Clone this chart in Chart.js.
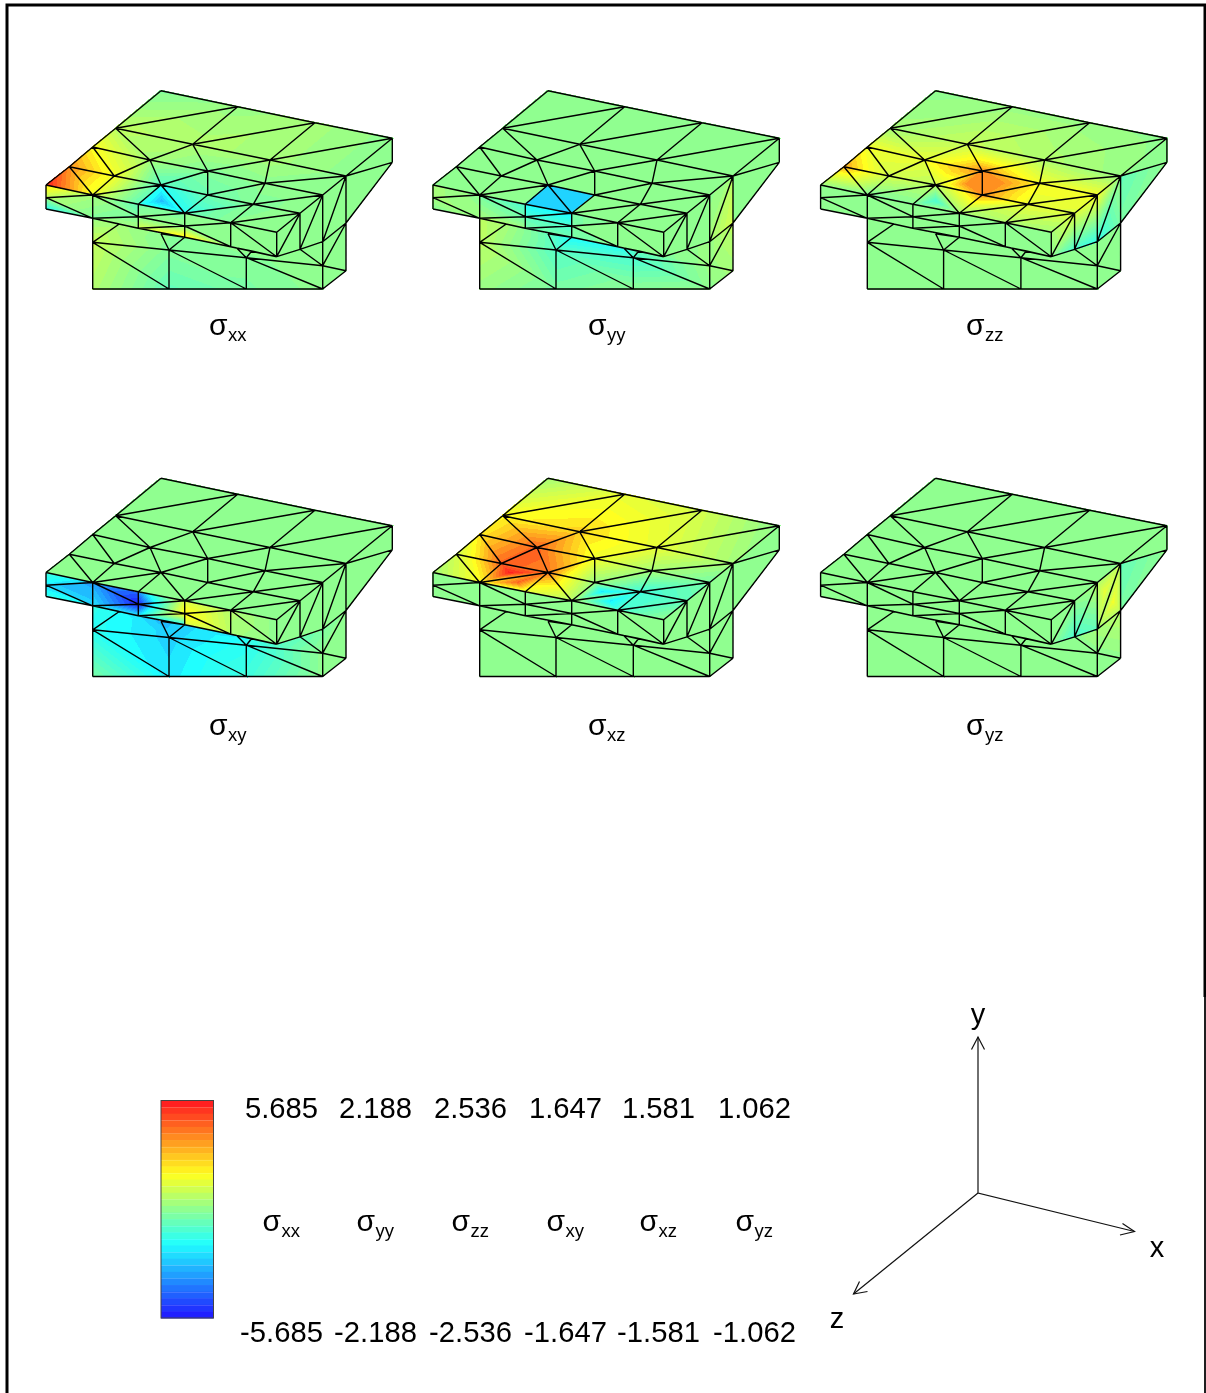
<!DOCTYPE html>
<html lang="en">
<head>
<meta charset="UTF-8">
<title>Stress components on the mesh</title>
<style>
    html, body { margin: 0; padding: 0; background: #fff; }
    canvas { display: block; }
</style>
<script src="https://cdn.jsdelivr.net/npm/chart.js"></script>
</head>
<body>
<canvas id="meshChart" width="1206" height="1393"></canvas>
<script>
// component names and the range printed under the colour bar
const components = ['xx', 'yy', 'zz', 'xy', 'xz', 'yz'];
const maxLabels = ['5.685', '2.188', '2.536', '1.647', '1.581', '1.062'];
const minLabels = ['-5.685', '-2.188', '-2.536', '-1.647', '-1.581', '-1.062'];

// where each copy of the mesh sits
const panelDX = [0, 387, 774.6, 0, 387, 774.6];
const panelDY = [0, 0, 0, 387.5, 387.5, 387.5];
const captionX = [209, 588, 966, 209, 588, 966];
const captionY = [335, 335, 335, 735, 735, 735];

// mesh nodes
const nodeNames = ['A0','A1','A2','A3','B0','B1','B2','B3','C0','C1','C2','C3','C4',
    'D0','D1','D2','D3','D4','D5','E0','E1','E2','E3','E4','E5',
    'G0','H0','H1','G2','H2','G3','H3','H4','H5','V1','V2','V3','W',
    'L0','L1','L2','L3','L4','M0','M1','M2','M3','Q1','Q2','Q3','Q4'];
const nodeX = [161,237.7,315,392.3,115.7,192.7,270,346,92.7,150,207.7,265,322.7,
    69.3,114.3,161,207.7,253.3,300,46,92.7,138.3,184.7,230.7,276.7,
    46,46,92.7,138.3,138.3,184.7,184.7,230.7,276.7,300,322.7,346,392.3,
    92.7,169,246.3,322.7,346,92.7,169,246.3,322.7,119.3,161,236.7,251.7];
const nodeY = [90.7,106.7,122.7,138.3,128.3,144.3,160,176,147,160,171,183.3,195,
    166.7,176,185,195,204.3,213.3,185,195,204.3,213.3,222.7,232.3,
    197.7,209,218.3,216.7,228.3,226,237.3,246.7,256.7,249.3,241.7,223,162.3,
    289,289,289,289,270.7,242.3,250,257.7,265.7,224,233.7,248,251];

const blockTriangles = ['M0 L0 L1','M0 L1 M1','M1 L1 L2','M1 L2 M2','M2 L2 L3','M2 L3 M3','M3 L3 L4',
    'H1 M0 Q1','M0 M1 Q1','Q1 M1 Q2','Q1 Q2 H2','Q2 M1 H3','M1 M2 H3','H3 M2 H4','H4 M2 Q3',
    'Q3 M2 Q4','Q4 M2 M3','Q4 M3 H5','H5 M3 V1','V1 M3 V2','V2 M3 V3','V3 M3 L4'];
const frontTriangles = ['E0 G0 E1','G0 H1 E1','G0 H0 H1','E1 H1 G2','E1 G2 E2','H1 H2 G2','E2 G2 E3',
    'G2 G3 E3','G2 H2 G3','H2 H3 G3','E3 G3 E4','G3 H3 H4','G3 H4 E4','E4 H4 H5','E4 H5 E5'];
const sideTriangles = ['E5 H5 D5','H5 V1 D5','D5 V1 C4','V1 V2 C4','C4 V2 B3','V2 V3 B3','B3 V3 W','B3 W A3'];
const topTriangles = ['A0 B0 A1','B0 B1 A1','A1 B1 A2','B1 B2 A2','A2 B2 A3','B2 B3 A3',
    'B0 C0 C1','B0 C1 B1','B1 C1 C2','B1 C2 B2','B2 C2 C3','B2 C3 B3','B3 C3 C4',
    'C0 D0 D1','C0 D1 C1','C1 D1 D2','C1 D2 C2','C2 D2 D3','C2 D3 C3','C3 D3 D4','C3 D4 C4','C4 D4 D5',
    'D0 E0 E1','D0 E1 D1','D1 E1 D2','D2 E1 E2','D2 E2 E3','D2 E3 D3','D3 E3 D4','D4 E3 E4','D4 E4 D5','D5 E4 E5'];
// triangle sides that are not lines in the picture
const hiddenEdges = ['Q1 M1','Q1 Q2','Q2 H2','Q1 H2','M2 H3','H4 M2','Q4 M3','M3 H5'];

// node order of the stress arrays: top surface, then the lower block
const valueNodes = ['A0','A1','A2','A3','B0','B1','B2','B3','C0','C1','C2','C3','C4',
    'D0','D1','D2','D3','D4','D5','E0','E1','E2','E3','E4','E5',
    'H1','H3','H4','H5','V1','V2','V3','L0','L1','L2','L3','L4','M0','M1','M2','M3','Q1','Q2','Q3','Q4'];

const sigmaXX = [-0.28,0.28,0.57,0, 1.14,0.85,0.57,0, 2.84,0.57,-0.28,0,0,
    4.26,2.56,-1.42,-0.85,-0.28,0, 5.69,2.56,-2.27,-2.56,-0.11,0,
    0.28,-0.28,0,0,0,0,0, 0.85,-1.1,-0.5,0,0, 1.42,-0.28,-0.28,0.17, 0.57,0,0,0];
const sigmaYY = [0,0,0,0, 0,0,0,0, 0,0,0,0,0,
    0,0,0,0,0,0, 0,0,0,0,0,0,
    0.44,-1.09,-0.98,-0.11,0,0.11,0.44, 0.11,-0.22,-0.04,0,0.22, 0.44,-0.55,-0.66,0.11, 0.22,-0.44,-0.87,-0.4];
const sigmaZZ = [0,0.13,0.13,0, 0.25,0.63,0.38,0.13, 1.14,1.01,1.9,1.14,1.14,
    1.78,0.76,0.51,1.9,1.01,0.89, 0.13,-0.13,-0.1,0.25,0.38,0.25,
    0,0,0,0,0,0,0, 0,0,0,0,0, 0,0,0,0, 0,0,0,0];
const sigmaXY = [0,0,0,0, 0,0,0,0, 0,0,0,0,0,
    0,0,0,0,0,0, 0,0,0,0,0,0,
    -0.66,-0.99,-0.91,-0.41,-0.33,-0.16,0, -0.16,-0.91,-0.58,0,0, -0.74,-0.99,-0.74,0, -0.82,-1.07,-0.82,-0.66];
const sigmaXZ = [0.16,0.63,0.47,0, 0.79,0.95,0.63,0.16, 0.87,1.34,0.71,0.16,-0.16,
    0.47,1.34,1.26,0.08,-0.55,-0.32, 0.16,0.79,0.63,0.24,-0.47,0,
    0,0,0,0,0,0,0, 0,0,0,0,0, 0,0,0,0, 0,0,0,0];
const sigmaYZ = [0,0,0,0, 0,0,0,0, 0,0,0,0,0,
    0,0,0,0,0,0, 0,0,0,0,0,0,
    0,0,0,0,0,0.11,0.21, 0,0,0,0,0, 0,0,0,0, 0,0,0,0];

// elements whose values differ from the shared node values: [triangle, value] is flat,
// [triangle, a, b, c] sets its corners, a fifth number sets its middle
const patchesXX = [['D2 E2 E3',-2.56,-2.27,-2.56,-3.7],['D2 E3 D3',-2.56,-2.56,-0.85],
    ['D2 E1 E2',-1.14,2,-1.14],['D3 E3 D4',-0.85,-2.27,-0.28],['D4 E3 E4',-0.28,-1.14,-0.11],
    ['E0 G0 E1',3.41,1.14,0.85],['G0 H1 E1',0.85,-0.28,0.57],['G0 H0 H1',0.28,-2.56,-0.57],
    ['E1 H1 G2',0.57,-0.28,-0.57],['E1 G2 E2',0.57,-0.57,-1.14],['H1 H2 G2',0.28,0.57,-0.28],
    ['E2 G2 E3',-0.57,0,-0.28],['G2 G3 E3',0,0,-0.28],['G2 H2 G3',0,1.71,0],
    ['H2 H3 G3',1.71,3.41,0],['G3 H3 H4',0,3.41,0.28]];
const patchesYY = [['D2 E2 E3',-1.36],['D2 E3 D3',-1.36],
    ['E0 G0 E1',0.22,0.22,0],['G0 H1 E1',0.22,0.11,0],['G0 H0 H1',0.11,0,0.11],
    ['E1 H1 G2',-0.22,0.22,-0.33],['E1 G2 E2',-0.22,-0.33,-0.66],['H1 H2 G2',0.44,0.11,-0.33],
    ['E2 G2 E3',-1.09,-0.66,-1.2],['G2 G3 E3',-0.66,-0.66,-1.2],['G2 H2 G3',-0.44,-0.22,-0.66],
    ['H2 H3 G3',-0.22,-0.33,-0.66],['E3 G3 E4',-0.22,-0.22,0],['G3 H3 H4',-0.22,-0.22,-0.11],
    ['C4 V2 B3',0,0.22,0.22],['V2 V3 B3',0.22,0.66,0.44]];
const patchesZZ = [['D2 E2 E3',0.51,-0.1,0.25,-0.76],
    ['C2 D2 D3',1.9,0.76,1.9,1.9],['C2 D3 C3',1.9,1.9,1.3,1.9],['C1 D2 C2',1.2,0.8,1.9,1.4],
    ['C3 D3 D4',1.3,1.9,1.1,1.4],
    ['E5 H5 D5',0.25,0,0.89],['H5 V1 D5',0,-0.76,0.89],['D5 V1 C4',0.89,-0.76,1.14],
    ['V1 V2 C4',-0.76,-1.01,1.14],['C4 V2 B3',1.14,-1.01,0.13],['V2 V3 B3',-1.01,-0.25,0.13],
    ['B3 V3 W',-0.51,-0.25,0]];
const patchesXY = [['E0 G0 E1',-0.58,-0.91,-0.99],['G0 H1 E1',-0.99,-0.99,-1.15],['G0 H0 H1',-0.99,-0.66,-0.82],
    ['E1 H1 G2',-1.15,-0.91,-1.647],['E1 G2 E2',-1.15,-1.647,-1.4],['H1 H2 G2',-0.82,-0.91,-1.647],
    ['E2 G2 E3',-1.24,-1.647,0.58],['G2 G3 E3',-1.647,0.91,0.58],['G2 H2 G3',-1.647,-0.91,0.91],
    ['H2 H3 G3',-0.91,-0.66,0.91],['E3 G3 E4',0.58,0.91,0.25],['G3 H3 H4',0.91,0.58,0.33],
    ['G3 H4 E4',0.91,0.33,0.25],['E4 H4 H5',0.25,0.16,0],['E4 H5 E5',0.25,0,0]];
const patchesXZ = [['D1 E1 D2',1.34,0.79,1.26,1.581],['D2 E1 E2',1.26,0.79,0.63,1.34],
    ['D3 E3 D4',0.08,0.24,-0.55,-0.87],['D4 E3 E4',-0.55,0.24,-0.47,-0.87]];
const patchesYZ = [['H5 V1 D5',0,-0.32,0],['D5 V1 C4',0,-0.32,0.11],['V1 V2 C4',-0.32,-0.21,0.21],
    ['C4 V2 B3',0.16,0.11,0.21,0.42],['V2 V3 B3',0.11,0.21,0.21,0.48],['B3 V3 W',-0.21,-0.11,0]];

const panelValues = [sigmaXX, sigmaYY, sigmaZZ, sigmaXY, sigmaXZ, sigmaYZ];
const panelPatches = [patchesXX, patchesYY, patchesZZ, patchesXY, patchesXZ, patchesYZ];

// colour table; the bar spaces the same colours evenly
const stopColors = [[32,32,255],[32,144,255],[32,255,255],[144,255,144],[255,255,32],[255,144,32],[255,32,32]];
const meshStops = [-1,-0.75,-0.5,0,0.5,0.75,1];
const barStops = [-1,-0.67,-0.33,0,0.33,0.67,1];
const meshLevels = 40;
const barBands = 33;
const barLeft = 161, barRight = 213.5, barTop = 1100.5, barBottom = 1318;

// frame and xyz triad
const frameLeft = [[7,1393],[7,5],[1205,5],[1205,997]];
const frameRight = [[1205,997],[1205,1393]];
const triadLines = [[[978,1037],[978,1193],[1134.5,1231.5]],[[978,1193],[853.5,1294]]];
const triadHeads = [[[971.5,1049.5],[978,1037],[984.5,1049.5]],
    [[1122.5,1223.5],[1134.5,1231.5],[1120,1235]],
    [[859.5,1281.5],[853.5,1294],[867.5,1291.5]]];
const triadNames = ['y', 'x', 'z'];
const triadNameX = [978, 1157, 837];
const triadNameY = [1024, 1257, 1328];

const barCenters = [281.5, 375.5, 470.5, 565.5, 658.5, 754.5];
const maxRowY = 1118, nameRowY = 1231, minRowY = 1342;

function lookupColor(t, stops) {
    if (t <= stops[0]) return stopColors[0];
    for (let i = 1; i < stops.length; i++) {
        if (t <= stops[i]) {
            const f = (t - stops[i - 1]) / (stops[i] - stops[i - 1]);
            const a = stopColors[i - 1], b = stopColors[i];
            return [a[0] + (b[0] - a[0]) * f, a[1] + (b[1] - a[1]) * f, a[2] + (b[2] - a[2]) * f];
        }
    }
    return stopColors[stopColors.length - 1];
}

// fills one triangle pixel by pixel with stepped colours
function rasterTriangle(img, w, h, p, v, limit) {
    const x0 = Math.max(0, Math.floor(Math.min(p[0][0], p[1][0], p[2][0])));
    const x1 = Math.min(w - 1, Math.ceil(Math.max(p[0][0], p[1][0], p[2][0])));
    const y0 = Math.max(0, Math.floor(Math.min(p[0][1], p[1][1], p[2][1])));
    const y1 = Math.min(h - 1, Math.ceil(Math.max(p[0][1], p[1][1], p[2][1])));
    const d = (p[1][1] - p[2][1]) * (p[0][0] - p[2][0]) + (p[2][0] - p[1][0]) * (p[0][1] - p[2][1]);
    if (Math.abs(d) < 1e-6) return;
    for (let y = y0; y <= y1; y++) {
        for (let x = x0; x <= x1; x++) {
            const px = x + 0.5, py = y + 0.5;
            const a = ((p[1][1] - p[2][1]) * (px - p[2][0]) + (p[2][0] - p[1][0]) * (py - p[2][1])) / d;
            const b = ((p[2][1] - p[0][1]) * (px - p[2][0]) + (p[0][0] - p[2][0]) * (py - p[2][1])) / d;
            const c = 1 - a - b;
            if (a < -0.02 || b < -0.02 || c < -0.02) continue;
            const val = (a * v[0] + b * v[1] + c * v[2]) / limit;
            const t = Math.round((val + 1) / 2 * meshLevels) / meshLevels * 2 - 1;
            const col = lookupColor(t, meshStops);
            const k = (y * w + x) * 4;
            img.data[k] = col[0];
            img.data[k + 1] = col[1];
            img.data[k + 2] = col[2];
            img.data[k + 3] = 255;
        }
    }
}

const meshFill = {
    id: 'meshFill',
    beforeDatasetsDraw(chart) {
        const sx = chart.scales.x, sy = chart.scales.y;
        const w = chart.width, h = chart.height;
        const layer = document.createElement('canvas');
        layer.width = w;
        layer.height = h;
        const lctx = layer.getContext('2d');
        const img = lctx.createImageData(w, h);
        const limits = maxLabels.map(Number);

        panelValues.forEach((values, pi) => {
            const byNode = {};
            valueNodes.forEach((n, i) => { byNode[n] = values[i]; });
            const patchByTri = {};
            panelPatches[pi].forEach(p => { patchByTri[p[0]] = p; });
            const pos = {};
            nodeNames.forEach((n, i) => {
                pos[n] = [sx.getPixelForValue(nodeX[i] + panelDX[pi]), sy.getPixelForValue(nodeY[i] + panelDY[pi])];
            });
            const paint = (list, flatByDefault) => {
                list.forEach(tri => {
                    const names = tri.split(' ');
                    const pts = names.map(n => pos[n]);
                    const patch = patchByTri[tri];
                    let vals = names.map(n => flatByDefault ? 0 : (byNode[n] ?? 0));
                    if (patch && patch.length === 2) vals = [patch[1], patch[1], patch[1]];
                    if (patch && patch.length >= 4) vals = patch.slice(1, 4);
                    if (patch && patch.length === 5) {
                        const mid = [(pts[0][0] + pts[1][0] + pts[2][0]) / 3, (pts[0][1] + pts[1][1] + pts[2][1]) / 3];
                        for (let i = 0; i < 3; i++) {
                            const j = (i + 1) % 3;
                            rasterTriangle(img, w, h, [pts[i], pts[j], mid], [vals[i], vals[j], patch[4]], limits[pi]);
                        }
                    } else {
                        rasterTriangle(img, w, h, pts, vals, limits[pi]);
                    }
                });
            };
            paint(blockTriangles, false);
            paint(frontTriangles, true);
            paint(sideTriangles, true);
            paint(topTriangles, false);
        });
        lctx.putImageData(img, 0, 0);
        chart.ctx.drawImage(layer, 0, 0);

        // colour bar
        const ctx = chart.ctx;
        const left = sx.getPixelForValue(barLeft), right = sx.getPixelForValue(barRight);
        const top = sy.getPixelForValue(barTop), bottom = sy.getPixelForValue(barBottom);
        const bandH = (bottom - top) / barBands;
        for (let i = 0; i < barBands; i++) {
            const t = 1 - 2 * i / (barBands - 1);
            const c = lookupColor(t, barStops);
            ctx.fillStyle = `rgb(${c[0]},${c[1]},${c[2]})`;
            ctx.fillRect(left, top + i * bandH, right - left, bandH + 0.5);
        }
        ctx.strokeStyle = 'rgba(255,255,255,0.15)';
        ctx.lineWidth = 1;
        for (let i = 1; i < barBands; i += 2) {
            ctx.beginPath();
            ctx.moveTo(left, Math.round(top + i * bandH) + 0.5);
            ctx.lineTo(right, Math.round(top + i * bandH) + 0.5);
            ctx.stroke();
        }
        ctx.strokeStyle = '#444';
        ctx.strokeRect(left, top, right - left, bottom - top);
    }
};

const textFont = '"Liberation Sans", Arial, sans-serif';

function drawSigma(ctx, sx, sy, name, x, y) {
    ctx.textAlign = 'left';
    ctx.textBaseline = 'alphabetic';
    ctx.font = `30px ${textFont}`;
    ctx.fillText('σ', sx.getPixelForValue(x), sy.getPixelForValue(y));
    ctx.font = `18.5px ${textFont}`;
    ctx.fillText(name, sx.getPixelForValue(x + 19), sy.getPixelForValue(y + 6));
}

const chartLabels = {
    id: 'chartLabels',
    afterDatasetsDraw(chart) {
        const ctx = chart.ctx, sx = chart.scales.x, sy = chart.scales.y;
        ctx.save();
        ctx.fillStyle = '#000';
        components.forEach((name, i) => {
            drawSigma(ctx, sx, sy, name, captionX[i], captionY[i]);
            drawSigma(ctx, sx, sy, name, barCenters[i] - 19, nameRowY);
            ctx.textAlign = 'center';
            ctx.font = `29.2px ${textFont}`;
            ctx.fillText(maxLabels[i], sx.getPixelForValue(barCenters[i]), sy.getPixelForValue(maxRowY));
            ctx.fillText(minLabels[i], sx.getPixelForValue(barCenters[i]), sy.getPixelForValue(minRowY));
        });
        ctx.textAlign = 'center';
        ctx.font = `29px ${textFont}`;
        triadNames.forEach((n, i) => {
            ctx.fillText(n, sx.getPixelForValue(triadNameX[i]), sy.getPixelForValue(triadNameY[i]));
        });
        ctx.restore();
    }
};

// one line dataset per panel, breaks between edges
function meshEdgePoints(pi) {
    const hidden = new Set(hiddenEdges.map(e => e.split(' ').sort().join(' ')));
    const seen = new Set();
    const pts = [];
    blockTriangles.concat(frontTriangles, sideTriangles, topTriangles).forEach(tri => {
        const n = tri.split(' ');
        [[n[0], n[1]], [n[1], n[2]], [n[2], n[0]]].forEach(pair => {
            const key = pair.slice().sort().join(' ');
            if (seen.has(key) || hidden.has(key)) return;
            seen.add(key);
            pair.forEach(name => {
                const i = nodeNames.indexOf(name);
                pts.push({ x: nodeX[i] + panelDX[pi], y: nodeY[i] + panelDY[pi] });
            });
            pts.push({ x: null, y: null });
        });
    });
    return pts;
}

function polyline(points) {
    return points.map(p => ({ x: p[0], y: p[1] }));
}

function lineSet(data, width, color) {
    return { data, showLine: true, borderColor: color, borderWidth: width, pointRadius: 0, spanGaps: false, tension: 0, fill: false };
}

const datasets = components.map((c, i) => lineSet(meshEdgePoints(i), 1.4, '#000'));
datasets.push(lineSet(polyline(frameLeft), 3, '#000'));
datasets.push(lineSet(polyline(frameRight), 1, '#000'));
triadLines.concat(triadHeads).forEach(l => datasets.push(lineSet(polyline(l), 1.2, '#111')));

new Chart(document.getElementById('meshChart').getContext('2d'), {
    type: 'scatter',
    data: { datasets },
    plugins: [{
        id: 'whiteBack',
        beforeDraw(chart) {
            chart.ctx.fillStyle = '#fff';
            chart.ctx.fillRect(0, 0, chart.width, chart.height);
        }
    }, meshFill, chartLabels],
    options: {
        responsive: false,
        animation: false,
        devicePixelRatio: 1,
        layout: { padding: 0 },
        plugins: { legend: { display: false }, title: { display: false }, tooltip: { enabled: false } },
        scales: {
            x: { type: 'linear', min: 0, max: 1206, display: false },
            y: { type: 'linear', min: 0, max: 1393, reverse: true, display: false }
        }
    }
});
</script>
</body>
</html>
